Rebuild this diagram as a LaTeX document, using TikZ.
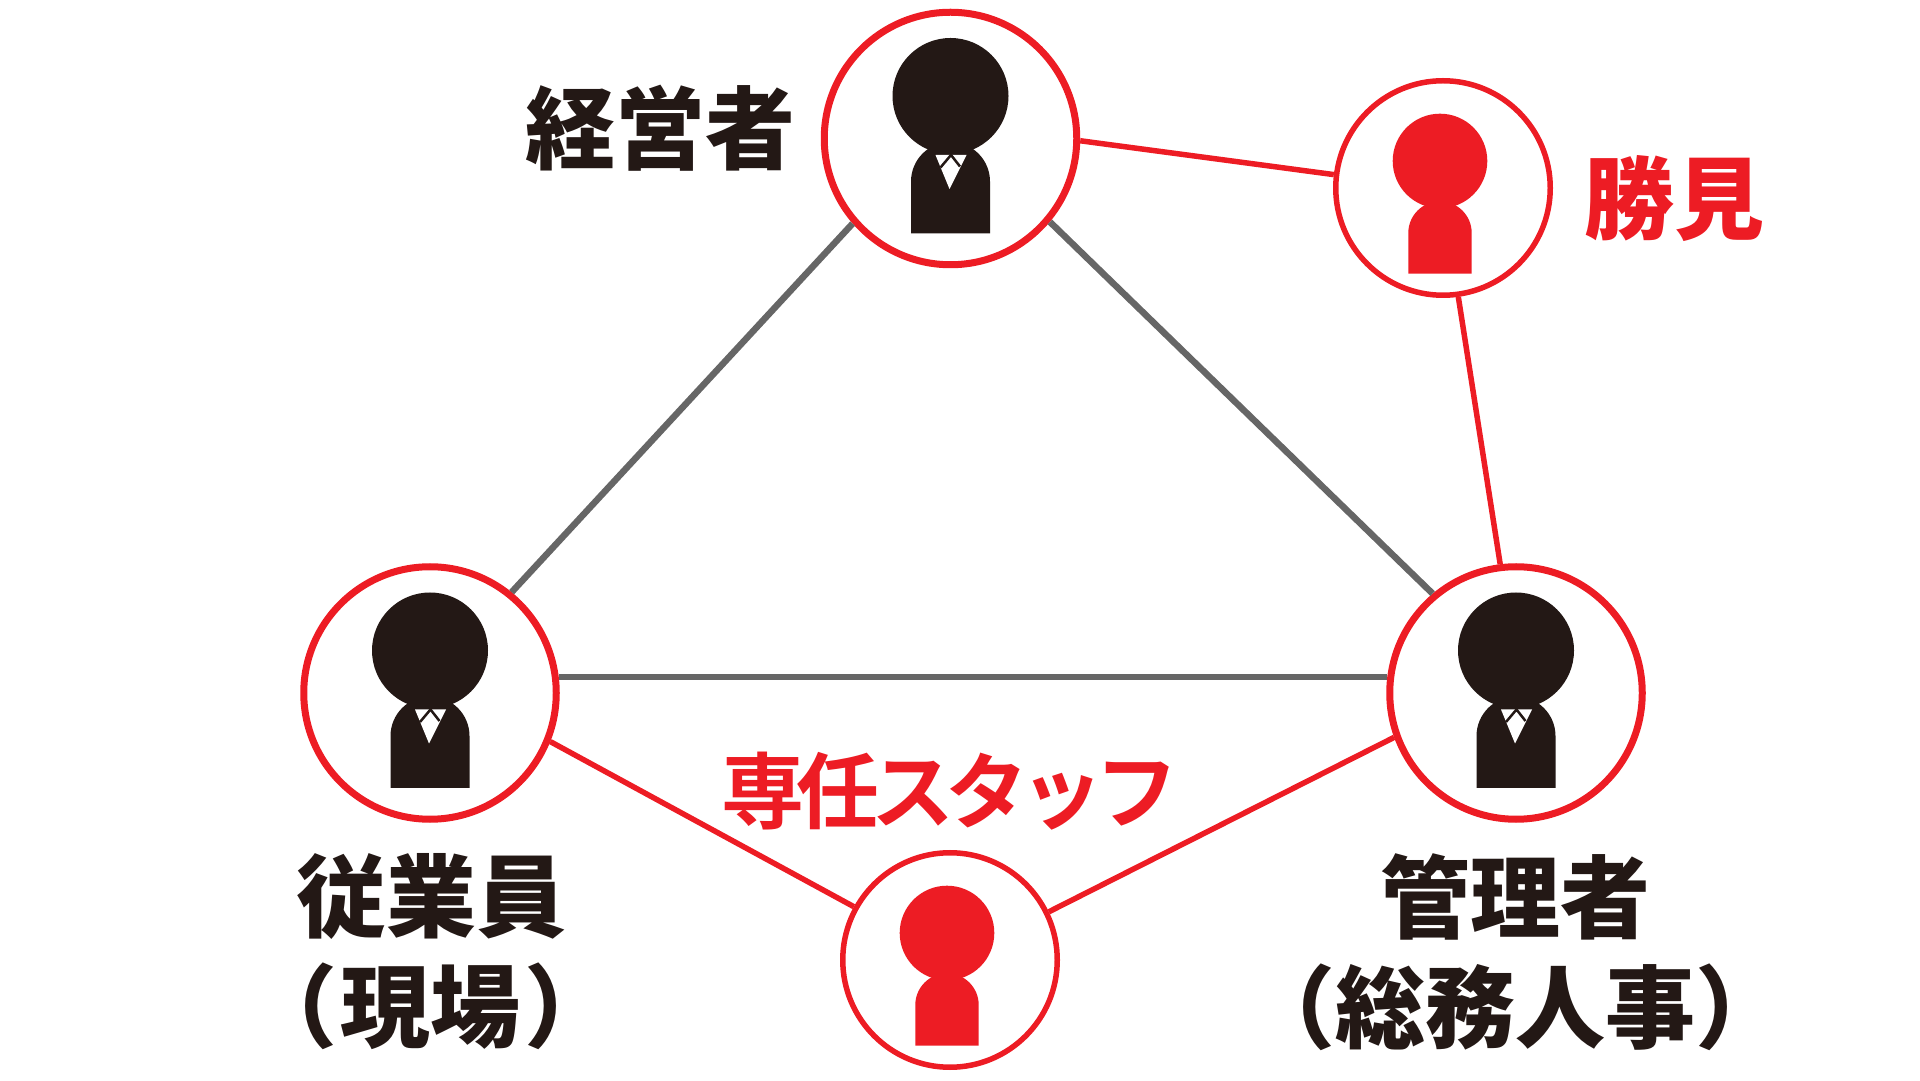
\documentclass[tikz,border=0pt]{standalone}
\usepackage{fontspec}
\newfontfamily\cjk[BoldFont={Noto Sans CJK JP Black}]{Noto Sans CJK JP}
\newfontfamily\cjktight[BoldFont={Noto Sans CJK JP Bold},LetterSpace=-10]{Noto Sans CJK JP}
\definecolor{inkred}{HTML}{ED1C24}
\definecolor{inkblack}{HTML}{231815}
\definecolor{linegray}{HTML}{666666}
\tikzset{
  pics/suit/.style={code={
    \fill[inkblack] (-39.5,-95) -- (-39.5,-43) arc (180:0:39.5) -- (39.5,-95) -- cycle;
    \fill[inkblack] (0,42.5) circle (58);
    \fill[white] (-15,-16.5) -- (16,-16.5) -- (-1,-50.5) -- cycle;
    \draw[inkblack,line width=2.5] (-10,-29) -- (0.5,-16.5) -- (9.5,-28);
  }},
  pics/staff/.style={code={
    \fill[inkred] (-34.7,-85.7) -- (-34.7,-45) arc (180:0:31.7) -- (28.7,-85.7) -- cycle;
    \fill[inkred] (-3,27) circle (47.3);
  }}
}
\begin{document}
\begin{tikzpicture}[x=1pt,y=1pt,
  big/.style={circle,draw=inkred,fill=white,line width=7,minimum size=252.5,inner sep=0},
  small/.style={circle,draw=inkred,fill=white,line width=5.5,minimum size=214.5,inner sep=0},
  graylink/.style={linegray,line width=6.5},
  redlink/.style={inkred,line width=5.5},
  label/.style={inner sep=0,align=center,text=inkblack,font=\cjk\bfseries\fontsize{90}{110}\selectfont},
  redlabel/.style={label,text=inkred}]

    \useasboundingbox (0,0) rectangle (1920,1080);

    \node[big] (owner) at (950.5,941.5) {};
    \node[big] (worker) at (430,387) {};
    \node[big] (manager) at (1516,387) {};
    \node[small] (expert) at (1443,892) {};
    \node[small] (staff) at (950,120) {};

    \pic at (owner) {suit};
    \pic at (worker) {suit};
    \pic at (manager) {suit};
    \pic at (expert) {staff};
    \pic at (staff) {staff};

    \node[label] (ownertext) at (660,952) {経営者};
    \node[label] (workertext) at (431,128) {従業員\\（\hspace{4pt}現場\hspace{4pt}）};
    \node[label] (managertext) at (1515,128) {管理者\\（総務人事）};
    \node[redlabel] (experttext) at (1674,881) {勝見};
    \node[redlabel,font=\cjktight\bfseries\fontsize{83}{90}\selectfont] (stafftext) at (950,289) {専任スタッフ};

    \draw[graylink] (owner.221.8) -- (worker.51.6);
    \draw[graylink] (owner.-40.4) -- (manager.130.8);
    \draw[graylink] (worker.7) -- (manager.173);
    \draw[redlink] (owner.-1.5) -- (expert.173.8);
    \draw[redlink] (expert.-82) -- (manager.97.6);
    \draw[redlink] (worker.-22) -- (staff.151.4);
    \draw[redlink] (manager.200) -- (staff.26.2);
\end{tikzpicture}
\end{document}
